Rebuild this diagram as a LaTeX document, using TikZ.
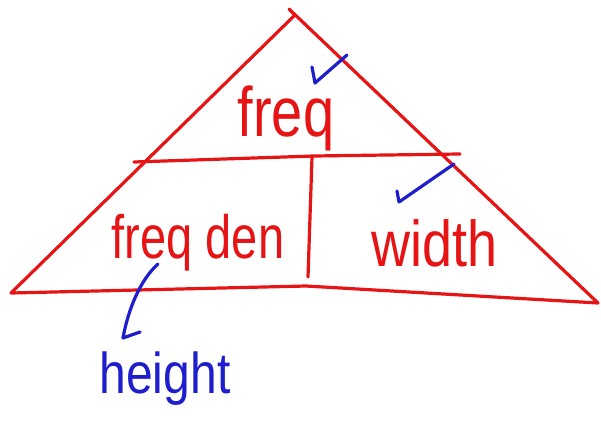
\documentclass[tikz,border=0pt]{standalone}
\usepackage{fontspec}
\setmainfont{Liberation Sans}
\usetikzlibrary{positioning}
\definecolor{penred}{HTML}{E61414}
\definecolor{penblue}{HTML}{1E1ECC}

\begin{document}
\begin{tikzpicture}[x=1pt, y=-1pt,
      pen/.style={penred, line width=3.2pt, line cap=round, line join=round},
      tick/.style={penblue, line width=3.2pt, line cap=round, line join=round},
      word/.style={penred, inner sep=0pt, anchor=base},
      note/.style={penblue, inner sep=0pt, anchor=base}]
    \useasboundingbox (0,0) rectangle (601,422);
    % corners of the triangle
    \coordinate (apex) at (295,15);
    \coordinate (bl) at (11,293);
    \coordinate (bm) at (306,286);
    \coordinate (br) at (598,303);
    \coordinate (ml) at (134,162);
    \coordinate (mm) at (314,156);
    \coordinate (mr) at (460,154);
    \coordinate (vb) at (308,277);
    \draw[pen] (289,9) -- (apex) -- (bl) -- (bm) -- (br) -- cycle;
    \draw[pen] (ml) -- (mm) -- (mr);
    \draw[pen] (312,157) -- (vb);
    % words
    \node[word, font=\fontsize{56}{56}\selectfont] (freq) at (286,137) {\scalebox{1}[1.25]{freq}};
    \node[word, font=\fontsize{47}{47}\selectfont] (den) at (198,258) {\scalebox{1}[1.3]{freq den}};
    \node[word, font=\fontsize{54}{54}\selectfont] (width) at (435,266) {\scalebox{1}[1.2]{width}};
    \node[note, font=\fontsize{48}{48}\selectfont] (height) at (165,393) {\scalebox{1}[1.2]{height}};
    % ticks
    \draw[tick] (347,55) -- (315,83) -- (312,67);
    \draw[tick] (454,164) -- (399,202) -- (397,191);
    \coordinate (q) at (158,264);
    \coordinate (hk) at (123,338);
    \draw[tick] (q) .. controls (140,280) and (128,310) .. (hk) -- (140,332);
\end{tikzpicture}
\end{document}
